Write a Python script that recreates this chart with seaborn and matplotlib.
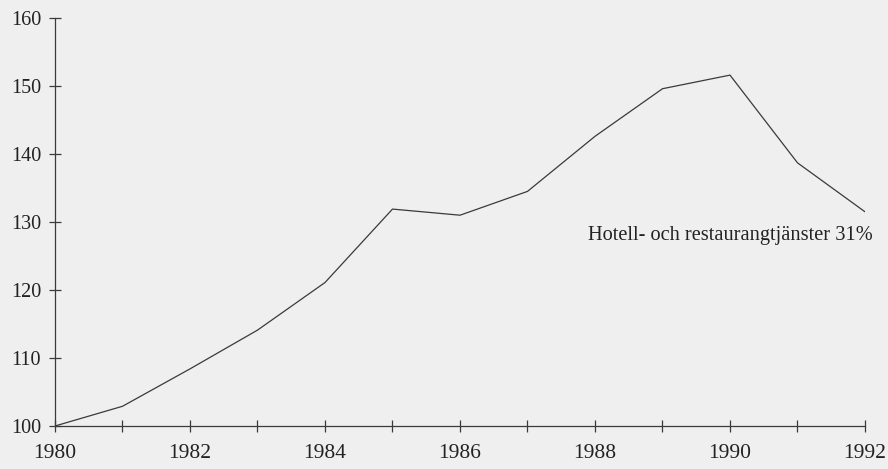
import pandas as pd
import seaborn as sns
import matplotlib.pyplot as plt
from matplotlib.ticker import MultipleLocator

# Data: price index, 1980 = 100
years = [1980, 1981, 1982, 1983, 1984, 1985, 1986, 1987, 1988, 1989, 1990, 1991, 1992]
index = [100, 102.9, 108.4, 114.1, 121.1, 131.9, 131.0, 134.5, 142.6, 149.6, 151.6, 138.7, 131.5]
y_ticks = [100, 110, 120, 130, 140, 150, 160]
x_labels = [1980, 1982, 1984, 1986, 1988, 1990, 1992]
series_label = "Hotell- och restaurangtjänster 31%"

df = pd.DataFrame({"År": years, "Index": index})

sns.set_style("white")
plt.rcParams["font.family"] = ["Liberation Serif", "DejaVu Serif"]

bg = "#efefef"
ink = "#3a3a3a"

fig = plt.figure(figsize=(8.88, 4.69), dpi=100, facecolor=bg)
ax = fig.add_axes([55 / 888, (469 - 426) / 469, 810 / 888, 408 / 469])
ax.set_facecolor(bg)

sns.lineplot(data=df, x="År", y="Index", color=ink, linewidth=0.9, ax=ax)

ax.set_xlim(1980, 1992)
ax.set_ylim(100, 160)
ax.set_yticks(y_ticks)
ax.set_xticks(x_labels)
ax.xaxis.set_minor_locator(MultipleLocator(1))

sns.despine(ax=ax)
for side in ["left", "bottom"]:
    ax.spines[side].set_color(ink)
    ax.spines[side].set_linewidth(0.9)

ax.tick_params(axis="y", left=True, direction="inout", length=8, width=0.9, color=ink,
               labelsize=14.5, labelcolor="#222222", pad=6)
ax.tick_params(axis="x", which="both", bottom=True, direction="inout", length=8, width=0.9,
               color=ink, labelsize=15.5, labelcolor="#222222", pad=9)

ax.set_xlabel("")
ax.set_ylabel("")

ax.text(1992.12, 127.3, series_label, ha="right", va="baseline",
        fontsize=14.7, color="#222222")

fig.savefig("out.png", dpi=100, facecolor=bg)
